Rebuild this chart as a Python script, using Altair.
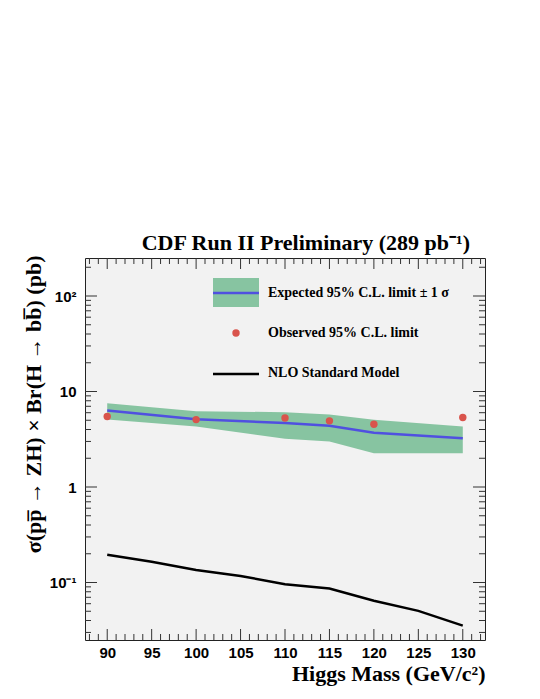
import altair as alt
import pandas as pd

# ---------------- data ----------------
mass = [90, 100, 110, 115, 120, 130]
expected = [6.32, 5.12, 4.67, 4.37, 3.69, 3.24]
exp_up = [7.54, 6.22, 6.07, 5.74, 5.05, 4.30]
exp_dn = [5.08, 4.30, 3.21, 2.99, 2.25, 2.25]
observed = [5.47, 5.08, 5.27, 4.93, 4.54, 5.34]

sm_mass = [90, 95, 100, 105, 110, 115, 120, 125, 130]
sm_xsec = [0.195, 0.165, 0.135, 0.117, 0.096, 0.0865, 0.0643, 0.0505, 0.0354]

x_major = [90, 95, 100, 105, 110, 115, 120, 125, 130]
x_minor = [m for m in range(88, 133) if m % 5 != 0]
y_major = [0.1, 1, 10, 100]
y_minor = [d * k for d in (0.01, 0.1, 1, 10, 100) for k in range(2, 10) if 0.025 <= d * k <= 250]

title_text = "CDF Run II Preliminary (289 pb\u207b\u00b9)"
x_title = "Higgs Mass (GeV/c\u00b2)"
y_title = "\u03c3(pp\u0305 \u2192 ZH) \u00d7 Br(H \u2192 bb\u0305) (pb)"
legend_labels = ["Expected 95%  C.L. limit \u00b1 1 \u03c3", "Observed 95%  C.L. limit", "NLO Standard Model"]

lim = pd.DataFrame({"mass": mass, "exp": expected, "up": exp_up, "dn": exp_dn, "obs": observed})
sm = pd.DataFrame({"mass": sm_mass, "xsec": sm_xsec})
xmaj = pd.DataFrame({"v": x_major})
xmin = pd.DataFrame({"v": x_minor})
ymaj = pd.DataFrame({"v": y_major})
ymin = pd.DataFrame({"v": y_minor})
one = pd.DataFrame({"t": [title_text]})
leg = pd.DataFrame({"t": legend_labels})

W, H = 400, 382
SERIF = "Liberation Serif"
SANS = "Liberation Sans"
GREEN = "#87c4a1"
BLUE = "#5050e0"
RED = "#d9544c"

xs = alt.Scale(domain=[87.5, 132.5], nice=False, zero=False)
ys = alt.Scale(type="log", domain=[0.025, 250], nice=False)

xaxis = alt.Axis(values=x_major, tickSize=0, domain=False, grid=False, labelFont=SANS,
                 labelFontSize=15, labelFontWeight="bold", labelColor="black", labelPadding=5,
                 labelOverlap=False, labelFlush=False,
                 title=x_title, titleFont=SERIF, titleFontSize=22, titleFontWeight="bold",
                 titleColor="black", titleX=W, titleY=40, titleAlign="right",
                 titleBaseline="alphabetic")
yaxis = alt.Axis(values=y_major, tickSize=0, domain=False, grid=False, labelFont=SANS,
                 labelFontSize=15, labelFontWeight="bold", labelColor="black", labelPadding=9,
                 labelOverlap=False, labelFlush=False,
                 labelExpr="datum.value >= 50 ? '10\u00b2' : datum.value >= 5 ? '10' : datum.value >= 0.5 ? '1' : '10\u207b\u00b9'",
                 title=y_title, titleFont=SERIF, titleFontSize=22, titleFontWeight="bold",
                 titleColor="black", titleAngle=270, titleAlign="right", titleBaseline="middle",
                 titleX=-52, titleY=-3)

X = lambda f: alt.X(f, type="quantitative", scale=xs, axis=xaxis)
Y = lambda f: alt.Y(f, type="quantitative", scale=ys, axis=yaxis)

band = alt.Chart(lim).mark_area(color=GREEN, opacity=1).encode(
    x=X("mass"), y=Y("dn"), y2="up")
expline = alt.Chart(lim).mark_line(color=BLUE, strokeWidth=2.5).encode(x=X("mass"), y=Y("exp"))
obs = alt.Chart(lim).mark_circle(color=RED, size=55, opacity=1).encode(x=X("mass"), y=Y("obs"))
smline = alt.Chart(sm).mark_line(color="black", strokeWidth=2.5).encode(x=X("mass"), y=Y("xsec"))

TC = "#333333"
ticks = []
for df, ln in ((xmaj, 11), (xmin, 6)):
    ticks.append(alt.Chart(df).mark_rule(color=TC, strokeWidth=1).encode(
        x=X("v"), y=alt.value(H), y2=alt.value(H - ln)))
    ticks.append(alt.Chart(df).mark_rule(color=TC, strokeWidth=1).encode(
        x=X("v"), y=alt.value(0), y2=alt.value(ln)))
for df, ln in ((ymaj, 12), (ymin, 6)):
    ticks.append(alt.Chart(df).mark_rule(color=TC, strokeWidth=1).encode(
        y=Y("v"), x=alt.value(0), x2=alt.value(ln)))
    ticks.append(alt.Chart(df).mark_rule(color=TC, strokeWidth=1).encode(
        y=Y("v"), x=alt.value(W), x2=alt.value(W - ln)))

# legend (drawn in the plot frame)
LX0, LX1 = 128, 174
leg_band = alt.Chart(one).mark_rect(color=GREEN).encode(
    x=alt.value(LX0), x2=alt.value(LX1), y=alt.value(20), y2=alt.value(49))
leg_blue = alt.Chart(one).mark_rule(color=BLUE, strokeWidth=2.5).encode(
    x=alt.value(LX0), x2=alt.value(LX1), y=alt.value(35))
leg_dot = alt.Chart(one).mark_circle(color=RED, size=55, opacity=1).encode(
    x=alt.value(151), y=alt.value(75))
leg_black = alt.Chart(one).mark_rule(color="black", strokeWidth=2.5).encode(
    x=alt.value(LX0), x2=alt.value(LX1), y=alt.value(116))
leg_text = []
for i, yy in enumerate((35, 75, 115)):
    leg_text.append(alt.Chart(leg).transform_filter(f"datum.t == '{legend_labels[i]}'").mark_text(
        font=SERIF, fontSize=14, fontWeight="bold", align="left", baseline="middle", color="black"
    ).encode(x=alt.value(183), y=alt.value(yy), text="t:N"))

title = alt.Chart(one).mark_text(font=SERIF, fontSize=22, fontWeight="bold", align="right",
                                 baseline="alphabetic", color="black").encode(
    x=alt.value(385), y=alt.value(-8), text="t:N")

chart = alt.layer(band, expline, obs, smline, *ticks, leg_band, leg_blue, leg_dot, leg_black,
                  *leg_text, title).properties(
    width=W, height=H,
    autosize=alt.AutoSizeParams(type="none"),
    padding={"left": 77, "top": 250, "right": 47, "bottom": 51},
    background="white",
).configure_view(fill="#f2f2f2", stroke="#222222", strokeWidth=1)

chart.save("out.html", embed_options={"renderer": "svg", "actions": False})
